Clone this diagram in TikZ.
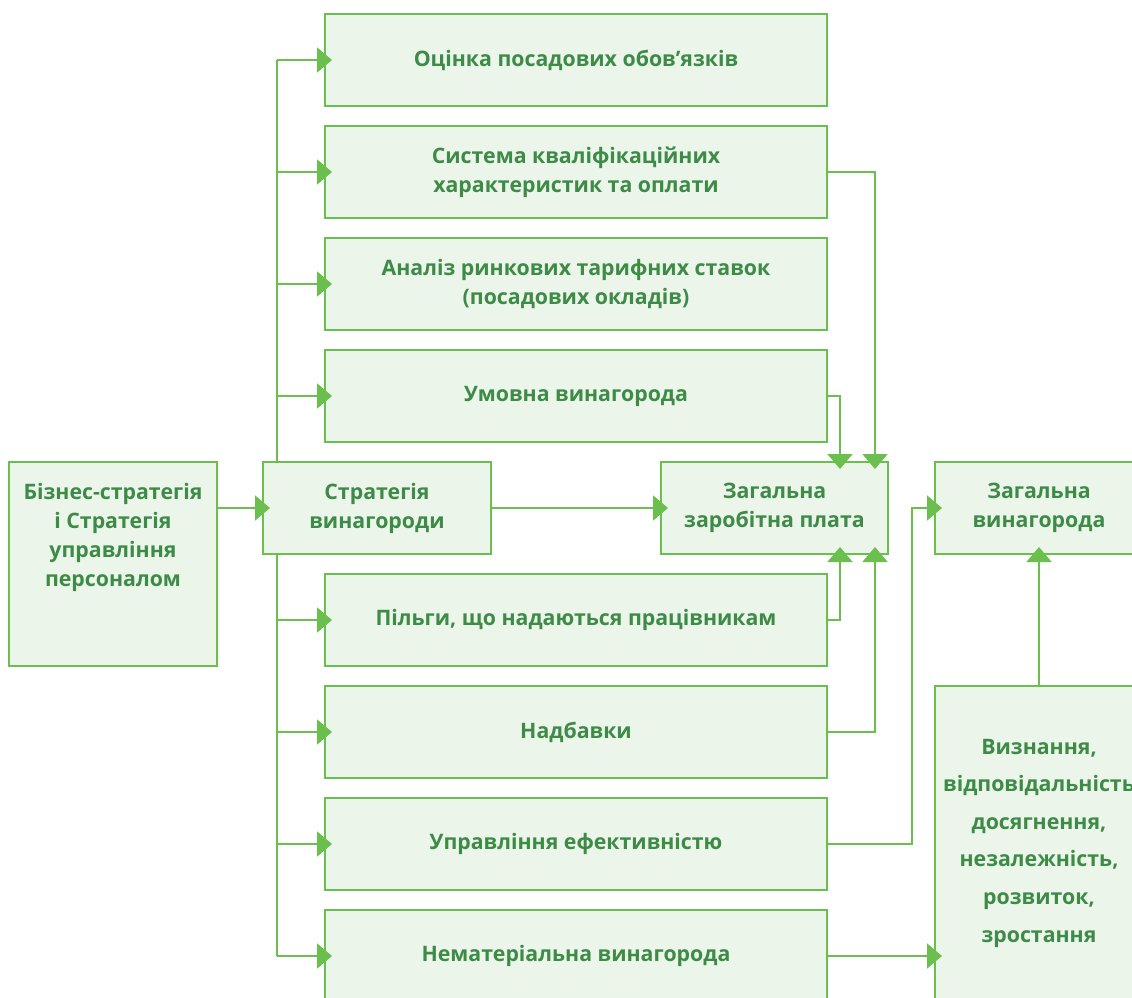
\documentclass[tikz,border=0pt]{standalone}
\usepackage{fontspec}
\setmainfont{Open Sans}
\usetikzlibrary{arrows.meta}
\definecolor{lineg}{HTML}{6BBF4E}
\definecolor{textg}{HTML}{3D8B47}
\definecolor{fillg}{HTML}{EBF5EA}
\begin{document}
\begin{tikzpicture}[x=1pt,y=-1pt,
  box/.style={draw=lineg, fill=fillg, line width=2pt, inner sep=0pt, anchor=center},
  txt/.style={text=textg, align=center, inner sep=0pt, font=\bfseries\fontsize{21.3}{29}\selectfont},
  rbox/.style={box, txt, minimum width=502pt, minimum height=92pt},
  ln/.style={draw=lineg, line width=2pt},
  arr/.style={ln, -{Triangle[length=15pt,width=25pt]}, shorten >=-8pt}]
\useasboundingbox (0,0) rectangle (1132,998);
\clip (0,0) rectangle (1132,998);
\coordinate (bt) at (277,60);
\coordinate (bb) at (277,956);
\coordinate (c1) at (840,0);
\coordinate (c2) at (875,0);
\coordinate (c3) at (912,0);
% nodes
\node[box, minimum width=208pt, minimum height=204pt] (biz) at (113,564) {};
\node[txt] (bizt) at (113,537) {Бізнес-стратегія\\і Стратегія\\управління\\персоналом};
\node[box, txt, minimum width=228pt, minimum height=92pt] (strat) at (377,508) {Стратегія\\винагороди};
\node[rbox] (r1) at (576,60) {Оцінка посадових обов’язків};
\node[rbox] (r2) at (576,172) {Система кваліфікаційних\\характеристик та оплати};
\node[rbox] (r3) at (576,284) {Аналіз ринкових тарифних ставок\\(посадових окладів)};
\node[rbox] (r4) at (576,396) {Умовна винагорода};
\node[rbox] (r5) at (576,620) {Пільги, що надаються працівникам};
\node[rbox] (r6) at (576,732) {Надбавки};
\node[rbox] (r7) at (576,844) {Управління ефективністю};
\node[rbox] (r8) at (576,956) {Нематеріальна винагорода};
\node[box, txt, minimum width=227pt, minimum height=92pt] (zzp) at (774.5,508) {Загальна\\заробітна плата};
\node[box, txt, minimum width=208pt, minimum height=92pt] (zv) at (1039,508) {Загальна\\винагорода};
\node[box, txt, font=\bfseries\fontsize{21.3}{37.6}\selectfont, minimum width=208pt, minimum height=314pt] (big) at (1039,843) {Визнання,\\відповідальність\\досягнення,\\незалежність,\\розвиток,\\зростання};
% bus
\draw[ln] (bt) -- (strat.north -| bt);
\draw[ln] (strat.south -| bt) -- (bb);
\foreach \r in {r1,r2,r3,r4,r5,r6,r7,r8}
  \draw[arr] (\r.west -| bt) -- (\r.west);
% connectors
\draw[arr] (biz.east |- strat.west) -- (strat.west);
\draw[arr] (strat.east) -- (zzp.west);
\draw[arr] (r2.east) -| (zzp.north -| c2);
\draw[arr] (r4.east) -| (zzp.north -| c1);
\draw[arr] (r5.east) -| (zzp.south -| c1);
\draw[arr] (r6.east) -| (zzp.south -| c2);
\draw[arr] (r7.east) -- (r7.east -| c3) |- (zv.west);
\draw[arr] (r8.east) -- (r8.east -| big.west);
\draw[arr] (big.north) -- (zv.south);
\end{tikzpicture}
\end{document}
